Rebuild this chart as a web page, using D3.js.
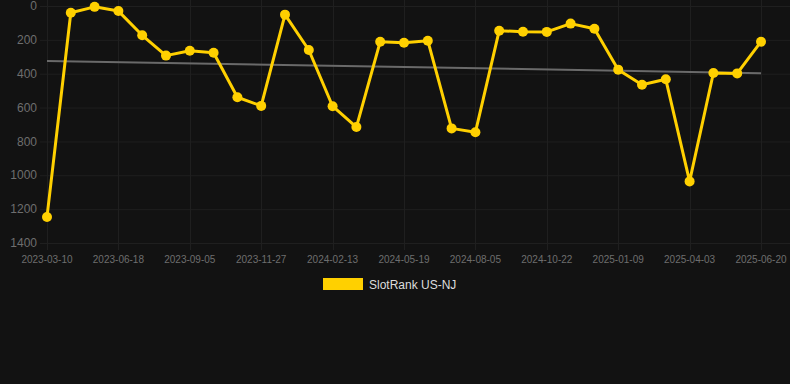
<!DOCTYPE html>
<html>
<head>
<meta charset="utf-8">
<script src="https://cdn.jsdelivr.net/npm/d3@7/dist/d3.min.js"></script>
<style>
  html, body { margin: 0; padding: 0; background: #121212; }
  svg { display: block; }
</style>
</head>
<body>
<svg id="chart" width="790" height="384"></svg>
<script>
const dates = [
  "2023-03-10","2023-04-12","2023-05-16","2023-06-18","2023-07-15","2023-08-10",
  "2023-09-05","2023-10-02","2023-10-30","2023-11-27","2023-12-24","2024-01-19",
  "2024-02-13","2024-03-16","2024-04-18","2024-05-19","2024-06-14","2024-07-10",
  "2024-08-05","2024-08-31","2024-09-26","2024-10-22","2024-11-18","2024-12-14",
  "2025-01-09","2025-02-06","2025-03-06","2025-04-03","2025-04-29","2025-05-25",
  "2025-06-20"
];
const tickLabels = ["2023-03-10","2023-06-18","2023-09-05","2023-11-27","2024-02-13",
  "2024-05-19","2024-08-05","2024-10-22","2025-01-09","2025-04-03","2025-06-20"];
const ranks = [1246, 40, 5, 30, 173, 293, 264, 276, 539, 590,
  51, 260, 592, 715, 211, 217, 205, 723, 746, 146,
  152, 153, 104, 134, 376, 465, 433, 1036, 396, 398, 211];
const yTicks = [0, 200, 400, 600, 800, 1000, 1200, 1400];
const seriesName = "SlotRank US-NJ";

const svg = d3.select("#chart");
const x = d3.scalePoint().domain(dates).range([47, 761]);
const y = d3.scaleLinear().domain([0, 1400]).range([6, 243]);

// horizontal grid
svg.append("g").selectAll("line").data(yTicks).join("line")
  .attr("x1", 40).attr("x2", 790)
  .attr("y1", d => y(d) + 0.5).attr("y2", d => y(d) + 0.5)
  .attr("stroke", "#1f1f1f").attr("stroke-width", 1);
// vertical grid
svg.append("g").selectAll("line").data(tickLabels).join("line")
  .attr("x1", d => Math.round(x(d)) + 0.5).attr("x2", d => Math.round(x(d)) + 0.5)
  .attr("y1", 0).attr("y2", 250)
  .attr("stroke", "#1f1f1f").attr("stroke-width", 1);

// y labels
svg.append("g").selectAll("text").data(yTicks).join("text")
  .attr("x", 37).attr("y", d => y(d)).attr("dy", "0.35em")
  .attr("text-anchor", "end")
  .attr("font-family", "Liberation Sans, Arial, sans-serif")
  .attr("font-size", 12).attr("fill", "#6e6e6e")
  .text(d => d);
// x labels
svg.append("g").selectAll("text").data(tickLabels).join("text")
  .attr("x", d => x(d)).attr("y", 259).attr("dy", "0.35em")
  .attr("text-anchor", "middle")
  .attr("font-family", "Liberation Sans, Arial, sans-serif")
  .attr("font-size", 10).attr("fill", "#6e6e6e")
  .text(d => d);

// trend line (least squares on index)
const n = ranks.length;
const idx = d3.range(n);
const mx = d3.mean(idx), my = d3.mean(ranks);
const slope = d3.sum(idx, i => (i - mx) * (ranks[i] - my)) / d3.sum(idx, i => (i - mx) ** 2);
const icpt = my - slope * mx;
svg.append("line")
  .attr("x1", x(dates[0])).attr("y1", y(icpt))
  .attr("x2", x(dates[n - 1])).attr("y2", y(icpt + slope * (n - 1)))
  .attr("stroke", "#6a6a6a").attr("stroke-width", 2);

// series line
const line = d3.line().x((d, i) => x(dates[i])).y(d => y(d));
svg.append("path").datum(ranks)
  .attr("d", line).attr("fill", "none")
  .attr("stroke", "#FFD000").attr("stroke-width", 3)
  .attr("stroke-linejoin", "round");
svg.append("g").selectAll("circle").data(ranks).join("circle")
  .attr("cx", (d, i) => x(dates[i])).attr("cy", d => y(d))
  .attr("r", 5).attr("fill", "#FFD000");

// legend
const lg = svg.append("g");
lg.append("rect").attr("x", 323).attr("y", 278).attr("width", 40).attr("height", 12)
  .attr("fill", "#FFD000");
lg.append("text").attr("x", 369).attr("y", 284.5).attr("dy", "0.35em")
  .attr("font-family", "Liberation Sans, Arial, sans-serif")
  .attr("font-size", 12).attr("fill", "#ddd")
  .text(seriesName);
</script>
</body>
</html>
